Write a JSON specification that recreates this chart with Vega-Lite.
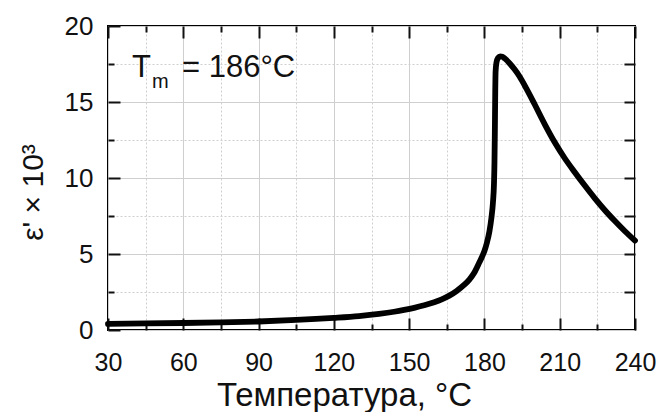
{
  "$schema": "https://vega.github.io/schema/vega-lite/v6.json",
  "width": 527,
  "height": 304,
  "autosize": "none",
  "padding": {"left": 108, "top": 26, "right": 25, "bottom": 82},
  "background": "white",
  "config": {
    "view": {"stroke": "black", "strokeWidth": 2},
    "font": "Liberation Sans",
    "axis": {"domain": false, "labelFont": "Liberation Sans", "titleFont": "Liberation Sans", "labelColor": "#111", "titleColor": "#111", "gridColor": "#cfcfcf", "title": null, "labelFlush": false}
  },
  "datasets": {
    "curve": [
      {"T": 30, "eps": 0.40}, {"T": 45, "eps": 0.43}, {"T": 60, "eps": 0.46}, {"T": 75, "eps": 0.50},
      {"T": 90, "eps": 0.56}, {"T": 105, "eps": 0.66}, {"T": 120, "eps": 0.80}, {"T": 130, "eps": 0.92},
      {"T": 138, "eps": 1.06}, {"T": 144, "eps": 1.2}, {"T": 148, "eps": 1.32}, {"T": 152, "eps": 1.46},
      {"T": 156, "eps": 1.63}, {"T": 160, "eps": 1.83}, {"T": 163, "eps": 2.02}, {"T": 166, "eps": 2.26},
      {"T": 169, "eps": 2.58}, {"T": 172, "eps": 2.98}, {"T": 174, "eps": 3.32}, {"T": 176, "eps": 3.78},
      {"T": 178, "eps": 4.45}, {"T": 179, "eps": 4.8}, {"T": 180, "eps": 5.2}, {"T": 181, "eps": 5.75},
      {"T": 182, "eps": 6.5}, {"T": 182.8, "eps": 7.4}, {"T": 183.4, "eps": 8.4}, {"T": 183.8, "eps": 9.6},
      {"T": 184.0, "eps": 11}, {"T": 184.15, "eps": 13}, {"T": 184.3, "eps": 15.5}, {"T": 184.45, "eps": 17},
      {"T": 184.8, "eps": 17.6}, {"T": 185.4, "eps": 17.9}, {"T": 186.3, "eps": 18.0}, {"T": 187.2, "eps": 17.98},
      {"T": 188.2, "eps": 17.85}, {"T": 190, "eps": 17.55}, {"T": 192, "eps": 17.15}, {"T": 194, "eps": 16.68},
      {"T": 197, "eps": 15.8}, {"T": 200, "eps": 14.85}, {"T": 204, "eps": 13.55}, {"T": 208, "eps": 12.35},
      {"T": 212, "eps": 11.3}, {"T": 216, "eps": 10.38}, {"T": 220, "eps": 9.5}, {"T": 224, "eps": 8.66},
      {"T": 228, "eps": 7.88}, {"T": 232, "eps": 7.17}, {"T": 236, "eps": 6.5}, {"T": 240, "eps": 5.88}
    ],
    "labels": [
      {"T": 39.6, "eps": 16.64, "text": "T", "size": "big"},
      {"T": 47.5, "eps": 15.9, "text": "m", "size": "small"},
      {"T": 59.5, "eps": 16.64, "text": "= 186°C", "size": "big"}
    ]
  },
  "layer": [
    {
      "data": {"name": "curve"},
      "mark": {"type": "line", "opacity": 0},
      "encoding": {
        "x": {"field": "T", "type": "quantitative", "scale": {"domain": [30, 240], "nice": false},
          "axis": {"orient": "bottom", "values": [45, 75, 105, 135, 165, 195, 225], "grid": true, "gridDash": [2, 2], "ticks": false, "labels": false}},
        "y": {"field": "eps", "type": "quantitative", "scale": {"domain": [0, 20], "nice": false},
          "axis": {"orient": "left", "values": [2.5, 7.5, 12.5, 17.5], "grid": true, "gridDash": [2, 2], "ticks": false, "labels": false}}
      }
    },
    {
      "data": {"name": "curve"},
      "mark": {"type": "line", "opacity": 0},
      "encoding": {
        "x": {"field": "T", "type": "quantitative",
          "axis": {"orient": "bottom", "values": [45, 75, 105, 135, 165, 195, 225], "grid": false, "ticks": true, "tickSize": 6, "offset": -6, "tickColor": "#111", "tickWidth": 2, "labels": false}},
        "y": {"field": "eps", "type": "quantitative",
          "axis": {"orient": "left", "values": [2.5, 7.5, 12.5, 17.5], "grid": false, "ticks": true, "tickSize": 6, "offset": -6, "tickColor": "#111", "tickWidth": 2, "labels": false}}
      }
    },
    {
      "data": {"name": "curve"},
      "mark": {"type": "line", "opacity": 0},
      "encoding": {
        "x": {"field": "T", "type": "quantitative",
          "axis": {"orient": "top", "values": [30, 60, 90, 120, 150, 180, 210, 240], "grid": false, "ticks": true, "tickSize": 12, "offset": -12, "tickColor": "#111", "tickWidth": 2, "labels": false}},
        "y": {"field": "eps", "type": "quantitative",
          "axis": {"orient": "right", "values": [2.5, 5, 7.5, 10, 12.5, 15, 17.5], "grid": false, "ticks": true, "tickSize": 11, "offset": -11, "tickColor": "#111", "tickWidth": 2, "labels": false}}
      }
    },
    {
      "data": {"name": "curve"},
      "mark": {"type": "line", "opacity": 0},
      "encoding": {
        "x": {"field": "T", "type": "quantitative",
          "axis": {"orient": "top", "values": [45, 75, 105, 135, 165, 195, 225], "grid": false, "ticks": true, "tickSize": -6, "tickColor": "#111", "tickWidth": 2, "labels": false}},
        "y": {"field": "eps", "type": "quantitative", "axis": null}
      }
    },
    {
      "data": {"name": "curve"},
      "mark": {"type": "line", "color": "black", "strokeWidth": 5.8, "strokeCap": "round", "strokeJoin": "round", "interpolate": "monotone"},
      "encoding": {
        "x": {"field": "T", "type": "quantitative",
          "axis": {"orient": "bottom", "values": [30, 60, 90, 120, 150, 180, 210, 240], "grid": true, "gridWidth": 1, "ticks": true, "tickSize": -12, "tickColor": "#111", "tickWidth": 2, "labelFontSize": 25, "labelPadding": 32, "labelBaseline": "top",
            "title": "Температура, °C", "titleFontSize": 33, "titleFontWeight": "normal", "titleX": 236, "titleY": 75, "titleAlign": "center", "titleBaseline": "alphabetic"}},
        "y": {"field": "eps", "type": "quantitative",
          "axis": {"orient": "left", "values": [0, 5, 10, 15, 20], "grid": true, "gridWidth": 1, "ticks": true, "tickSize": -12, "tickColor": "#111", "tickWidth": 2, "labelFontSize": 26, "labelPadding": 27,
            "title": "ε' × 10³", "titleFontSize": 30, "titleFontWeight": "normal", "titleX": -66, "titleY": 166, "titleAngle": -90, "titleAlign": "center", "titleBaseline": "alphabetic"}}
      }
    },
    {
      "data": {"name": "labels"},
      "mark": {"type": "text", "align": "left", "baseline": "alphabetic", "color": "#111", "font": "Liberation Sans"},
      "encoding": {
        "x": {"field": "T", "type": "quantitative", "axis": null},
        "y": {"field": "eps", "type": "quantitative", "axis": null},
        "text": {"field": "text"},
        "size": {"field": "size", "type": "nominal", "scale": {"domain": ["big", "small"], "range": [31, 20]}, "legend": null}
      }
    }
  ],
  "resolve": {"axis": {"x": "independent", "y": "independent"}}
}
